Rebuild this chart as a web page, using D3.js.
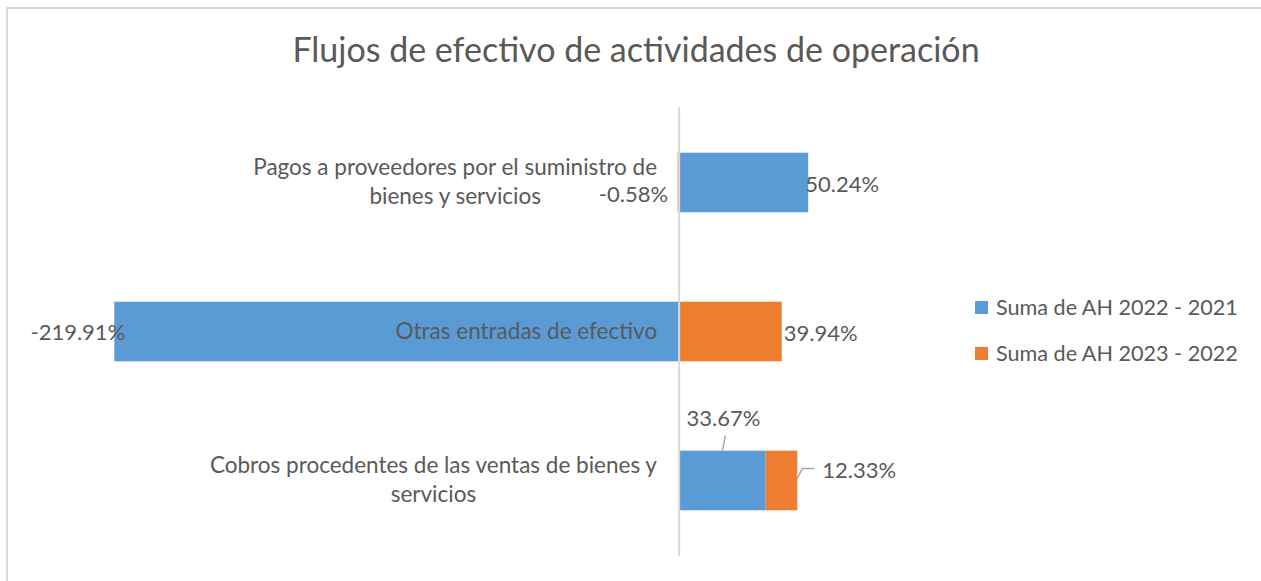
<!DOCTYPE html>
<html>
<head>
<meta charset="utf-8">
<script src="https://cdn.jsdelivr.net/npm/d3@7"></script>
<style>
  body { margin: 0; background: #fff; }
  svg text { font-family: Lato, "Liberation Sans", sans-serif; fill: #595959; }
</style>
</head>
<body>
<div id="chart"></div>
<script>
// horizontal stacked bars, excel style

const title = "Flujos de efectivo de actividades de operación";
const categories = [
  "Pagos a proveedores por el suministro de bienes y servicios",
  "Otras entradas de efectivo",
  "Cobros procedentes de las ventas de bienes y servicios"
];
// wrapped the way the axis shows them
const categoryLines = [
  ["Pagos a proveedores por el suministro de", "bienes y servicios"],
  ["Otras entradas de efectivo"],
  ["Cobros procedentes de las ventas de bienes y", "servicios"]
];
const seriesNames = ["Suma de AH 2022 - 2021", "Suma de AH 2023 - 2022"];
const ah2022 = [0.5024, -2.1991, 0.3367];
const ah2023 = [-0.0058, 0.3994, 0.1233];
const colors = ["#5B9BD5", "#ED7D31"];

const width = 1261, height = 581;
const lineGrey = "#d9d9d9";

const svg = d3.select("#chart").append("svg")
  .attr("width", width)
  .attr("height", height);

// frame (only top and left show in the capture)
svg.append("path")
  .attr("d", "M7,581 V8 H1261")
  .attr("fill", "none")
  .attr("stroke", lineGrey)
  .attr("stroke-width", 2);

svg.append("text")
  .attr("x", 636)
  .attr("y", 62)
  .attr("text-anchor", "middle")
  .attr("font-size", 34)
  .text(title);

const x = d3.scaleLinear().domain([-2.5, 1]).range([37, 936]);
const y = d3.scaleBand().domain(categories).range([108, 555])
  .paddingInner(0.6).paddingOuter(0.3);

const rows = categories.map((c, i) => ({ cat: c, s0: ah2022[i], s1: ah2023[i] }));
const stack = d3.stack().keys(["s0", "s1"]).offset(d3.stackOffsetDiverging);
const stacked = stack(rows);

svg.append("g").selectAll("g")
  .data(stacked)
  .join("g")
  .attr("fill", (d, i) => colors[i])
  .selectAll("rect")
  .data(d => d)
  .join("rect")
  .attr("x", d => x(Math.min(d[0], d[1])))
  .attr("y", d => y(d.data.cat))
  .attr("width", d => Math.abs(x(d[1]) - x(d[0])))
  .attr("height", y.bandwidth());

// zero axis line
svg.append("line")
  .attr("x1", x(0)).attr("x2", x(0))
  .attr("y1", 107).attr("y2", 556)
  .attr("stroke", lineGrey)
  .attr("stroke-width", 2);

// category labels, centered block sitting left of the zero line
const catG = svg.append("g");
categoryLines.forEach((lines, i) => {
  const c = y(categories[i]) + y.bandwidth() / 2;
  const t = catG.append("text")
    .attr("font-size", 22.5)
    .attr("text-anchor", "middle");
  lines.forEach((ln, j) => {
    t.append("tspan")
      .attr("x", 0)
      .attr("y", c + (j - (lines.length - 1) / 2) * 29 + 7)
      .text(ln);
  });
  const w = t.node().getBBox().width;
  t.attr("transform", `translate(${x(0) - 22 - w / 2},0)`);
});

// data labels - placed roughly where they were dragged in the original
const fmt = v => (v * 100).toFixed(2) + "%";
const mid = i => y(categories[i]) + y.bandwidth() / 2;
const labels = svg.append("g").attr("font-size", 22);

labels.append("text") // pagos, 2022
  .attr("x", x(ah2022[0]) - 3).attr("y", mid(0) + 9)
  .text(fmt(ah2022[0]));
labels.append("text") // pagos, 2023
  .attr("x", x(0) - 11).attr("y", mid(0) + 19)
  .attr("text-anchor", "end")
  .text(fmt(ah2023[0]));
labels.append("text") // otras, 2022
  .attr("x", x(ah2022[1]) + 11).attr("y", mid(1) + 8)
  .attr("text-anchor", "end")
  .text(fmt(ah2022[1]));
labels.append("text") // otras, 2023
  .attr("x", x(ah2023[1]) + 2).attr("y", mid(1) + 9)
  .text(fmt(ah2023[1]));

// cobros with leader lines
const cTop = y(categories[2]);
labels.append("text")
  .attr("x", x(ah2022[2] / 2) + 1).attr("y", cTop - 25)
  .attr("text-anchor", "middle")
  .text(fmt(ah2022[2]));
svg.append("line")
  .attr("x1", x(ah2022[2] / 2) + 3).attr("y1", cTop - 15)
  .attr("x2", x(ah2022[2] / 2)).attr("y2", cTop)
  .attr("stroke", "#a6a6a6").attr("stroke-width", 1.5);

const cEnd = x(ah2022[2] + ah2023[2]);
svg.append("polyline")
  .attr("points", `${cEnd},${mid(2) - 2} ${cEnd + 5},${mid(2) - 12} ${cEnd + 17},${mid(2) - 12}`)
  .attr("fill", "none")
  .attr("stroke", "#a6a6a6").attr("stroke-width", 1.5);
labels.append("text")
  .attr("x", cEnd + 25).attr("y", mid(2) - 3)
  .text(fmt(ah2023[2]));

// legend
const leg = svg.append("g").attr("transform", "translate(975,301)");
seriesNames.forEach((s, i) => {
  leg.append("rect")
    .attr("x", 0).attr("y", i * 46)
    .attr("width", 13).attr("height", 13)
    .attr("fill", colors[i]);
  leg.append("text")
    .attr("x", 21).attr("y", i * 46 + 14)
    .attr("font-size", 21.6)
    .text(s);
});
</script>
</body>
</html>
